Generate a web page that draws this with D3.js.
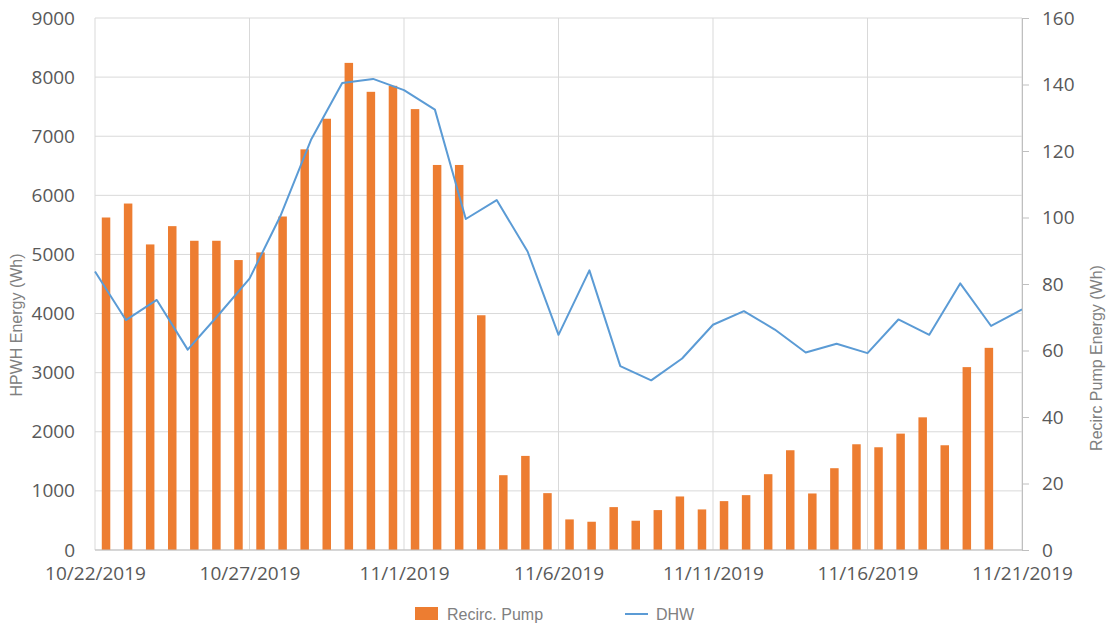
<!DOCTYPE html>
<html>
<head>
<meta charset="utf-8">
<script src="https://cdn.jsdelivr.net/npm/d3@7"></script>
<style>
  body { margin: 0; background: #fff; }
  svg { display: block; }
</style>
</head>
<body>
<script>
// DHW (HPWH energy, left axis) - one point per day
let dhwDates = ['2019-10-22','2019-10-23','2019-10-24','2019-10-25','2019-10-26','2019-10-27','2019-10-28',
  '2019-10-29','2019-10-30','2019-10-31','2019-11-01','2019-11-02','2019-11-03','2019-11-04','2019-11-05',
  '2019-11-06','2019-11-07','2019-11-08','2019-11-09','2019-11-10','2019-11-11','2019-11-12','2019-11-13',
  '2019-11-14','2019-11-15','2019-11-16','2019-11-17','2019-11-18','2019-11-19','2019-11-20','2019-11-21']
let dhwValues = [4710,3890,4230,3390,3980,4590,5650,6950,7900,7970,7780,7450,5600,5920,5050,
  3640,4730,3110,2870,3240,3810,4040,3730,3340,3490,3330,3900,3640,4510,3790,4070]

// Recirc pump energy (right axis), plotted on its own hidden category axis
let recircValues = [100,104.2,91.9,97.4,93,93,87.2,89.5,100.3,120.5,129.7,146.5,137.8,139.6,132.6,
  115.8,115.8,70.6,22.5,28.3,17.1,9.2,8.5,12.9,8.8,12.0,16.1,12.2,14.7,16.5,22.8,30.0,17.0,24.6,
  31.8,30.9,35.0,39.9,31.5,55.0,60.8]

let leftTicks = [0,1000,2000,3000,4000,5000,6000,7000,8000,9000]
let rightTicks = [0,20,40,60,80,100,120,140,160]
let xTickDates = ['2019-10-22','2019-10-27','2019-11-01','2019-11-06','2019-11-11','2019-11-16','2019-11-21']

let width = 1107
let height = 624
let plotLeft = 95, plotRight = 1022, plotTop = 18, plotBottom = 550

const parse = d3.utcParse('%Y-%m-%d')
const fmt = d3.utcFormat('%-m/%-d/%Y')

const svg = d3.select('body').append('svg')
  .attr('width', width).attr('height', height)

const x = d3.scaleUtc()
  .domain([parse(dhwDates[0]), parse(dhwDates[dhwDates.length - 1])])
  .range([plotLeft, plotRight])

const xBar = d3.scaleBand()
  .domain(d3.range(recircValues.length + 1))
  .range([plotLeft, plotRight])
  .paddingInner(0.615)
  .paddingOuter(0.3075)

const yLeft = d3.scaleLinear().domain([0, 9000]).range([plotBottom, plotTop])
const yRight = d3.scaleLinear().domain([0, 160]).range([plotBottom, plotTop])

// horizontal gridlines
svg.append('g')
  .selectAll('line')
  .data(leftTicks)
  .join('line')
  .attr('x1', plotLeft).attr('x2', plotRight)
  .attr('y1', d => yLeft(d)).attr('y2', d => yLeft(d))
  .attr('stroke', '#d9d9d9').attr('stroke-width', 1)

// vertical gridlines
svg.append('g')
  .selectAll('line')
  .data(xTickDates)
  .join('line')
  .attr('x1', d => x(parse(d))).attr('x2', d => x(parse(d)))
  .attr('y1', plotTop).attr('y2', plotBottom)
  .attr('stroke', '#d9d9d9').attr('stroke-width', 1)

// bars
svg.append('g')
  .selectAll('rect')
  .data(recircValues)
  .join('rect')
  .attr('x', (d, i) => xBar(i))
  .attr('width', xBar.bandwidth())
  .attr('y', d => yRight(d))
  .attr('height', d => plotBottom - yRight(d))
  .attr('fill', '#ed7d31')

// DHW line
const line = d3.line()
  .x((d, i) => x(parse(dhwDates[i])))
  .y(d => yLeft(d))

svg.append('path')
  .datum(dhwValues)
  .attr('d', line)
  .attr('fill', 'none')
  .attr('stroke', '#5b9bd5')
  .attr('stroke-width', 2)
  .attr('stroke-linejoin', 'round')

// bottom axis line
svg.append('line')
  .attr('x1', plotLeft).attr('x2', plotRight)
  .attr('y1', plotBottom).attr('y2', plotBottom)
  .attr('stroke', '#bfbfbf')

// right axis
const rightAxis = svg.append('g')
  .attr('transform', `translate(${plotRight},0)`)
  .call(d3.axisRight(yRight).tickValues(rightTicks).tickSize(7).tickPadding(13))
rightAxis.select('.domain').attr('stroke', '#bfbfbf')
rightAxis.selectAll('.tick line').attr('stroke', '#bfbfbf')
rightAxis.selectAll('text')
  .attr('fill', '#595959')
  .style('font-family', '"Open Sans", sans-serif')
  .style('font-size', '19px')

// left axis labels
const leftAxis = svg.append('g')
  .attr('transform', `translate(${plotLeft},0)`)
  .call(d3.axisLeft(yLeft).tickValues(leftTicks).tickFormat(d3.format('d')).tickSize(0).tickPadding(20))
leftAxis.select('.domain').remove()
leftAxis.selectAll('text')
  .attr('fill', '#595959')
  .style('font-family', '"Open Sans", sans-serif')
  .style('font-size', '19px')

// x axis labels
const bottomAxis = svg.append('g')
  .attr('transform', `translate(0,${plotBottom})`)
  .call(d3.axisBottom(x).tickValues(xTickDates.map(parse)).tickFormat(fmt).tickSize(0).tickPadding(17))
bottomAxis.select('.domain').remove()
bottomAxis.selectAll('text')
  .attr('fill', '#595959')
  .style('font-family', '"Open Sans", sans-serif')
  .style('font-size', '19px')

// axis titles
svg.append('text')
  .attr('transform', 'translate(22,325) rotate(-90)')
  .attr('text-anchor', 'middle')
  .attr('fill', '#808080')
  .style('font-family', '"Liberation Sans", Arial, sans-serif')
  .style('font-size', '16px')
  .text('HPWH Energy (Wh)')

svg.append('text')
  .attr('transform', 'translate(1102,358) rotate(-90)')
  .attr('text-anchor', 'middle')
  .attr('fill', '#808080')
  .style('font-family', '"Liberation Sans", Arial, sans-serif')
  .style('font-size', '16px')
  .text('Recirc Pump Energy (Wh)')

// legend
const legend = svg.append('g').attr('id', 'legend')
legend.append('rect')
  .attr('x', 415).attr('y', 607).attr('width', 23).attr('height', 13)
  .attr('fill', '#ed7d31')
legend.append('text')
  .attr('x', 447).attr('y', 620)
  .attr('fill', '#808080')
  .style('font-family', '"Liberation Sans", Arial, sans-serif')
  .style('font-size', '16px')
  .text('Recirc. Pump')
legend.append('line')
  .attr('x1', 625).attr('x2', 648).attr('y1', 614).attr('y2', 614)
  .attr('stroke', '#5b9bd5').attr('stroke-width', 2)
legend.append('text')
  .attr('x', 656).attr('y', 620)
  .attr('fill', '#808080')
  .style('font-family', '"Liberation Sans", Arial, sans-serif')
  .style('font-size', '16px')
  .text('DHW')
</script>
</body>
</html>
